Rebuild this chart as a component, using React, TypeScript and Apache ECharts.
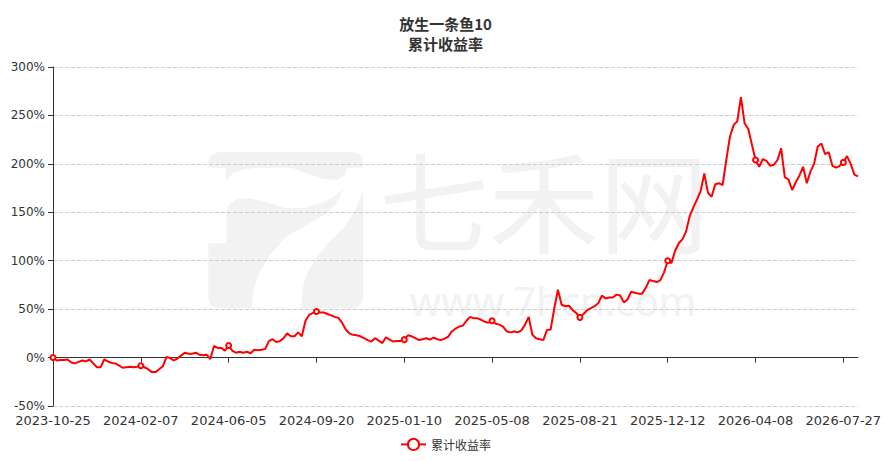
import React, { useEffect, useRef } from "react";
import * as echarts from "echarts";

// ---- categories (sampled trading dates), one array per label span ----
const dates1 = ["2023-10-25","2023-10-30","2023-11-03","2023-11-08","2023-11-13","2023-11-16","2023-11-21","2023-11-24","2023-11-29","2023-12-04","2023-12-07","2023-12-12","2023-12-15","2023-12-20","2023-12-25","2023-12-28","2024-01-03","2024-01-08","2024-01-11","2024-01-16","2024-01-19","2024-01-24","2024-01-29","2024-02-01"];
const dates2 = ["2024-02-07","2024-02-19","2024-02-22","2024-02-27","2024-03-01","2024-03-06","2024-03-11","2024-03-14","2024-03-19","2024-03-22","2024-03-27","2024-04-01","2024-04-08","2024-04-11","2024-04-16","2024-04-19","2024-04-24","2024-04-29","2024-05-08","2024-05-13","2024-05-16","2024-05-21","2024-05-24","2024-05-29"];
const dates3 = ["2024-06-05","2024-06-11","2024-06-14","2024-06-19","2024-06-24","2024-06-27","2024-07-02","2024-07-05","2024-07-10","2024-07-15","2024-07-18","2024-07-23","2024-07-26","2024-07-31","2024-08-05","2024-08-08","2024-08-13","2024-08-16","2024-08-21","2024-08-26","2024-08-29","2024-09-03","2024-09-06","2024-09-11"];
const dates4 = ["2024-09-20","2024-09-25","2024-09-30","2024-10-10","2024-10-15","2024-10-18","2024-10-23","2024-10-28","2024-10-31","2024-11-05","2024-11-08","2024-11-13","2024-11-18","2024-11-21","2024-11-26","2024-11-29","2024-12-04","2024-12-09","2024-12-12","2024-12-17","2024-12-20","2024-12-25","2024-12-30","2025-01-03"];
const dates5 = ["2025-01-10","2025-01-15","2025-01-20","2025-01-23","2025-02-05","2025-02-10","2025-02-13","2025-02-18","2025-02-21","2025-02-26","2025-03-03","2025-03-06","2025-03-11","2025-03-14","2025-03-19","2025-03-24","2025-03-27","2025-04-01","2025-04-07","2025-04-10","2025-04-15","2025-04-18","2025-04-23","2025-04-28"];
const dates6 = ["2025-05-08","2025-05-13","2025-05-16","2025-05-21","2025-05-26","2025-05-29","2025-06-04","2025-06-09","2025-06-12","2025-06-17","2025-06-20","2025-06-25","2025-06-30","2025-07-03","2025-07-08","2025-07-11","2025-07-16","2025-07-21","2025-07-24","2025-07-29","2025-08-01","2025-08-06","2025-08-11","2025-08-14"];
const dates7 = ["2025-08-21","2025-08-26","2025-08-29","2025-09-03","2025-09-08","2025-09-11","2025-09-16","2025-09-19","2025-09-24","2025-09-29","2025-10-10","2025-10-15","2025-10-20","2025-10-23","2025-10-28","2025-10-31","2025-11-05","2025-11-10","2025-11-13","2025-11-18","2025-11-21","2025-11-26","2025-12-01","2025-12-04"];
const dates8 = ["2025-12-12","2025-12-17","2025-12-22","2025-12-25","2025-12-30","2026-01-06","2026-01-09","2026-01-14","2026-01-19","2026-01-22","2026-01-27","2026-01-30","2026-02-04","2026-02-09","2026-02-12","2026-02-25","2026-03-02","2026-03-05","2026-03-10","2026-03-13","2026-03-18","2026-03-23","2026-03-26","2026-03-31"];
const dates9 = ["2026-04-08","2026-04-13","2026-04-16","2026-04-21","2026-04-24","2026-04-29","2026-05-08","2026-05-13","2026-05-18","2026-05-21","2026-05-26","2026-05-29","2026-06-03","2026-06-08","2026-06-11","2026-06-16","2026-06-22","2026-06-25","2026-06-30","2026-07-03","2026-07-08","2026-07-13","2026-07-16","2026-07-21"];
const datesTail = ["2026-07-27","2026-07-30","2026-08-04","2026-08-07","2026-08-12"];

// ---- cumulative return (%) ----
const ret1 = [0, -3, -2.5, -2.5, -2, -5, -6, -4.5, -3, -4, -2, -6, -10, -10, -2, -4, -5.5, -6, -8, -10.5, -10, -9.5, -10, -9.5];
const ret2 = [-8.5, -10, -12, -15, -15, -12, -9, 0.5, -0.5, -3, -1, 2, 5, 4, 4, 5, 3, 2.5, 3, -1.5, 12, 10, 10, 7];
const ret3 = [12.5, 7, 5, 6, 5, 6, 4.5, 8, 7.5, 8, 9, 17, 19, 16, 17, 20, 25, 22, 22, 26, 22, 38, 44, 46];
const ret4 = [47.5, 46.5, 46.5, 45, 43.5, 42, 41, 36, 29, 25, 23.5, 23, 22, 20, 18, 16.5, 20, 17.5, 15, 21, 18.5, 16.5, 17, 17];
const ret5 = [18.5, 23, 22, 20, 18, 19, 20, 18.5, 20.5, 19, 18, 19.5, 21.5, 27, 30, 32, 33, 38, 42, 40.5, 40.5, 39, 37, 36];
const ret6 = [38, 35, 34, 32, 27, 26, 27, 26, 28, 34, 42, 23.5, 20, 19, 18, 28.5, 29, 51, 70, 54.5, 53, 53.5, 49, 46];
const ret7 = [41.5, 45, 49, 51, 53, 56, 64, 61, 62, 62, 65, 64, 57, 60, 68, 67, 66, 66, 72, 80, 79, 78, 80, 88];
const ret8 = [100, 97.5, 110, 118, 122, 130, 146, 155, 163, 172, 190, 170, 166, 179, 180, 178, 204, 228, 240, 244, 269, 242, 236, 220];
const ret9 = [204, 197, 205, 203, 198, 199, 204, 216, 186, 184, 173, 181, 188, 197, 180, 192, 200, 218, 221, 210, 212, 198, 196, 198];
const retTail = [201.5, 208, 200, 189, 187];

const yTicks = { min: -50, max: 300, interval: 50 };
const seriesName = "累计收益率";
const titleText = "放生一条鱼10\n累计收益率";

const categories = [...dates1, ...dates2, ...dates3, ...dates4, ...dates5, ...dates6, ...dates7, ...dates8, ...dates9, ...datesTail];
const values = [...ret1, ...ret2, ...ret3, ...ret4, ...ret5, ...ret6, ...ret7, ...ret8, ...ret9, ...retTail];
const labelStep = dates1.length - 1;

const WM = "#f2f2f2";

export default function App() {
  const ref = useRef<HTMLDivElement>(null);
  useEffect(() => {
    document.body.style.margin = "0";
    if (!ref.current) return;
    const chart = echarts.init(ref.current, null, { renderer: "svg" });
    const option: any = {
      animation: false,
      backgroundColor: "#ffffff",
      title: {
        text: titleText,
        left: "center",
        top: 8,
        textStyle: {
          fontSize: 15,
          fontWeight: "bold",
          color: "#333333",
          lineHeight: 20,
          fontFamily: "Noto Sans CJK SC",
        },
      },
      legend: {
        data: [seriesName],
        bottom: 5,
        left: "center",
        itemWidth: 25,
        itemHeight: 14,
        textStyle: { color: "#333333", fontSize: 12, fontFamily: "Noto Sans CJK SC" },
      },
      grid: { left: 53, right: 33, top: 67, bottom: 55, containLabel: false },
      graphic: [
        {
          type: "group",
          x: 200,
          y: 145,
          scaleX: 1 / 3,
          scaleY: 1 / 3,
          z: -10,
          silent: true,
          children: [
            { type: "rect", z: -10, shape: { x: 25, y: 22, width: 465, height: 46, r: [30, 30, 0, 0] }, style: { fill: WM } },
            {
              type: "polygon",
              z: -10,
              shape: { points: [[78, 67], [78, 110], [95, 88], [125, 74], [180, 67], [270, 67], [320, 85], [370, 102], [410, 105], [435, 92], [442, 67]] },
              style: { fill: WM },
            },
            {
              type: "polygon",
              z: -10,
              shape: {
                points: [[80, 295], [80, 200], [88, 178], [110, 163], [150, 160], [200, 172], [260, 190], [320, 188], [370, 172], [410, 150], [432, 128], [410, 175], [380, 205], [320, 240], [260, 275], [210, 330], [175, 390], [160, 440], [155, 490], [55, 490], [33, 482], [25, 460], [25, 295]],
              },
              style: { fill: WM },
            },
            {
              type: "polygon",
              z: -10,
              shape: {
                points: [[490, 140], [490, 460], [482, 482], [460, 490], [305, 490], [308, 430], [320, 390], [345, 345], [385, 295], [430, 250], [465, 200]],
              },
              style: { fill: WM },
            },
          ],
        },
        {
          type: "text",
          x: 544,
          y: 207,
          z: -10,
          silent: true,
          style: { text: "七禾网", fontSize: 110, lineHeight: 110, fill: WM, textAlign: "center", textVerticalAlign: "middle", fontFamily: "DejaVu Sans, Noto Sans CJK SC", fontWeight: "normal" },
        },
        {
          type: "text",
          x: 553,
          y: 300,
          z: -10,
          silent: true,
          style: { text: "www.7hcn.com", fontSize: 40, lineHeight: 40, fill: WM, textAlign: "center", textVerticalAlign: "middle", fontFamily: "Noto Sans" },
        },
      ],
      xAxis: [
        {
          type: "category",
          data: categories,
          boundaryGap: false,
          axisLine: { show: true, onZero: true, lineStyle: { color: "#333333", width: 1 } },
          axisTick: { show: true, interval: labelStep, length: 5, lineStyle: { color: "#333333" } },
          axisLabel: { show: false, interval: labelStep },
          splitLine: { show: false },
        },
        {
          type: "category",
          data: categories,
          boundaryGap: false,
          position: "bottom",
          axisLine: { show: false, onZero: false },
          axisTick: { show: false },
          axisLabel: { show: true, interval: labelStep, color: "#333333", fontSize: 13, margin: 8, fontFamily: "DejaVu Sans" },
          splitLine: { show: false },
        },
      ],
      yAxis: {
        type: "value",
        min: yTicks.min,
        max: yTicks.max,
        interval: yTicks.interval,
        axisLine: { show: true, lineStyle: { color: "#333333" } },
        axisTick: { show: true, length: 5, lineStyle: { color: "#333333" } },
        axisLabel: { formatter: "{value}%", color: "#333333", fontSize: 12, margin: 8, fontFamily: "DejaVu Sans" },
        splitLine: { show: true, lineStyle: { type: "dashed", color: "#cccccc" } },
      },
      series: [
        {
          name: seriesName,
          type: "line",
          xAxisIndex: 1,
          data: values,
          symbol: "emptyCircle",
          symbolSize: 5,
          showSymbol: true,
          lineStyle: { color: "#ff0000", width: 2 },
          itemStyle: { color: "#ff0000", borderWidth: 1 },
          z: 3,
        },
      ],
    };
    chart.setOption(option);
    return () => chart.dispose();
  }, []);
  return <div ref={ref} style={{ width: 891, height: 461 }} />;
}
